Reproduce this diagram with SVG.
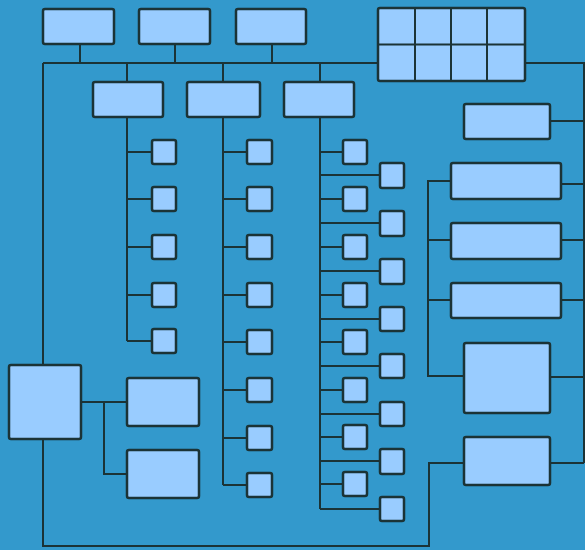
<svg xmlns="http://www.w3.org/2000/svg" width="585" height="550" viewBox="0 0 585 550">
<style>
.b{fill:#99ccff;stroke:#1b3336;stroke-width:2.5}
.c{fill:none;stroke:#1b3336;stroke-width:2;stroke-linejoin:miter}
</style>
<rect width="585" height="550" fill="#3399cc"/>
<g id="connectors" class="c">
<path d="M80 44V63M175 44V63M272 44V63M43 63H378M525 63H584V463"/>
<path d="M43 63V365M43 439V546H429V463H464"/>
<path d="M127 63V82M223 63V82M320 63V82"/>
<path d="M127 117V341M127 152H152M127 199H152M127 247H152M127 295H152M127 341H152"/>
<path d="M223 117V485M223 152H247M223 199H247M223 247H247M223 295H247M223 342H247M223 390H247M223 438H247M223 485H247"/>
<path d="M320 117V509M320 152H343M320 199H343M320 247H343M320 295H343M320 342H343M320 390H343M320 437H343M320 484H343M320 175H380M320 223H380M320 271H380M320 319H380M320 366H380M320 414H380M320 461H380M320 509H380"/>
<path d="M550 121H584M561 184H584M561 240H584M561 300H584M550 377H584M550 463H584"/>
<path d="M451 181H428V376H464M428 240H451M428 300H451"/>
<path d="M81 402H127M104 402V474H127"/>
</g>
<g id="top1"><rect class="b" x="43" y="9" width="71" height="35" rx="2"/></g>
<g id="top2"><rect class="b" x="139" y="9" width="71" height="35" rx="2"/></g>
<g id="top3"><rect class="b" x="236" y="9" width="70" height="35" rx="2"/></g>
<g id="grid">
<rect class="b" x="378" y="8" width="147" height="73" rx="2"/>
<path class="c" d="M378 44.5H525M415 8V81M451 8V81M487 8V81" stroke-width="2.5"/>
</g>
<g id="mid1"><rect class="b" x="93" y="82" width="70" height="35" rx="2"/></g>
<g id="mid2"><rect class="b" x="187" y="82" width="73" height="35" rx="2"/></g>
<g id="mid3"><rect class="b" x="284" y="82" width="70" height="35" rx="2"/></g>
<g id="colA">
<rect class="b" x="152" y="140" width="24" height="24" rx="2"/>
<rect class="b" x="152" y="187" width="24" height="24" rx="2"/>
<rect class="b" x="152" y="235" width="24" height="24" rx="2"/>
<rect class="b" x="152" y="283" width="24" height="24" rx="2"/>
<rect class="b" x="152" y="329" width="24" height="24" rx="2"/>
</g>
<g id="colB">
<rect class="b" x="247" y="140" width="25" height="24" rx="2"/>
<rect class="b" x="247" y="187" width="25" height="24" rx="2"/>
<rect class="b" x="247" y="235" width="25" height="24" rx="2"/>
<rect class="b" x="247" y="283" width="25" height="24" rx="2"/>
<rect class="b" x="247" y="330" width="25" height="24" rx="2"/>
<rect class="b" x="247" y="378" width="25" height="24" rx="2"/>
<rect class="b" x="247" y="426" width="25" height="24" rx="2"/>
<rect class="b" x="247" y="473" width="25" height="24" rx="2"/>
</g>
<g id="colC">
<rect class="b" x="343" y="140" width="24" height="24" rx="2"/>
<rect class="b" x="343" y="187" width="24" height="24" rx="2"/>
<rect class="b" x="343" y="235" width="24" height="24" rx="2"/>
<rect class="b" x="343" y="283" width="24" height="24" rx="2"/>
<rect class="b" x="343" y="330" width="24" height="24" rx="2"/>
<rect class="b" x="343" y="378" width="24" height="24" rx="2"/>
<rect class="b" x="343" y="425" width="24" height="24" rx="2"/>
<rect class="b" x="343" y="472" width="24" height="24" rx="2"/>
<rect class="b" x="380" y="163" width="24" height="25" rx="2"/>
<rect class="b" x="380" y="211" width="24" height="25" rx="2"/>
<rect class="b" x="380" y="259" width="24" height="25" rx="2"/>
<rect class="b" x="380" y="307" width="24" height="24" rx="2"/>
<rect class="b" x="380" y="354" width="24" height="24" rx="2"/>
<rect class="b" x="380" y="402" width="24" height="24" rx="2"/>
<rect class="b" x="380" y="449" width="24" height="25" rx="2"/>
<rect class="b" x="380" y="497" width="24" height="24" rx="2"/>
</g>
<g id="r1"><rect class="b" x="464" y="104" width="86" height="35" rx="2"/></g>
<g id="r2"><rect class="b" x="451" y="163" width="110" height="36" rx="2"/></g>
<g id="r3"><rect class="b" x="451" y="223" width="110" height="36" rx="2"/></g>
<g id="r4"><rect class="b" x="451" y="283" width="110" height="35" rx="2"/></g>
<g id="r5"><rect class="b" x="464" y="343" width="86" height="70" rx="2"/></g>
<g id="r6"><rect class="b" x="464" y="437" width="86" height="48" rx="2"/></g>
<g id="left"><rect class="b" x="9" y="365" width="72" height="74" rx="2"/></g>
<g id="l1"><rect class="b" x="127" y="378" width="72" height="48" rx="2"/></g>
<g id="l2"><rect class="b" x="127" y="450" width="72" height="48" rx="2"/></g>
</svg>
